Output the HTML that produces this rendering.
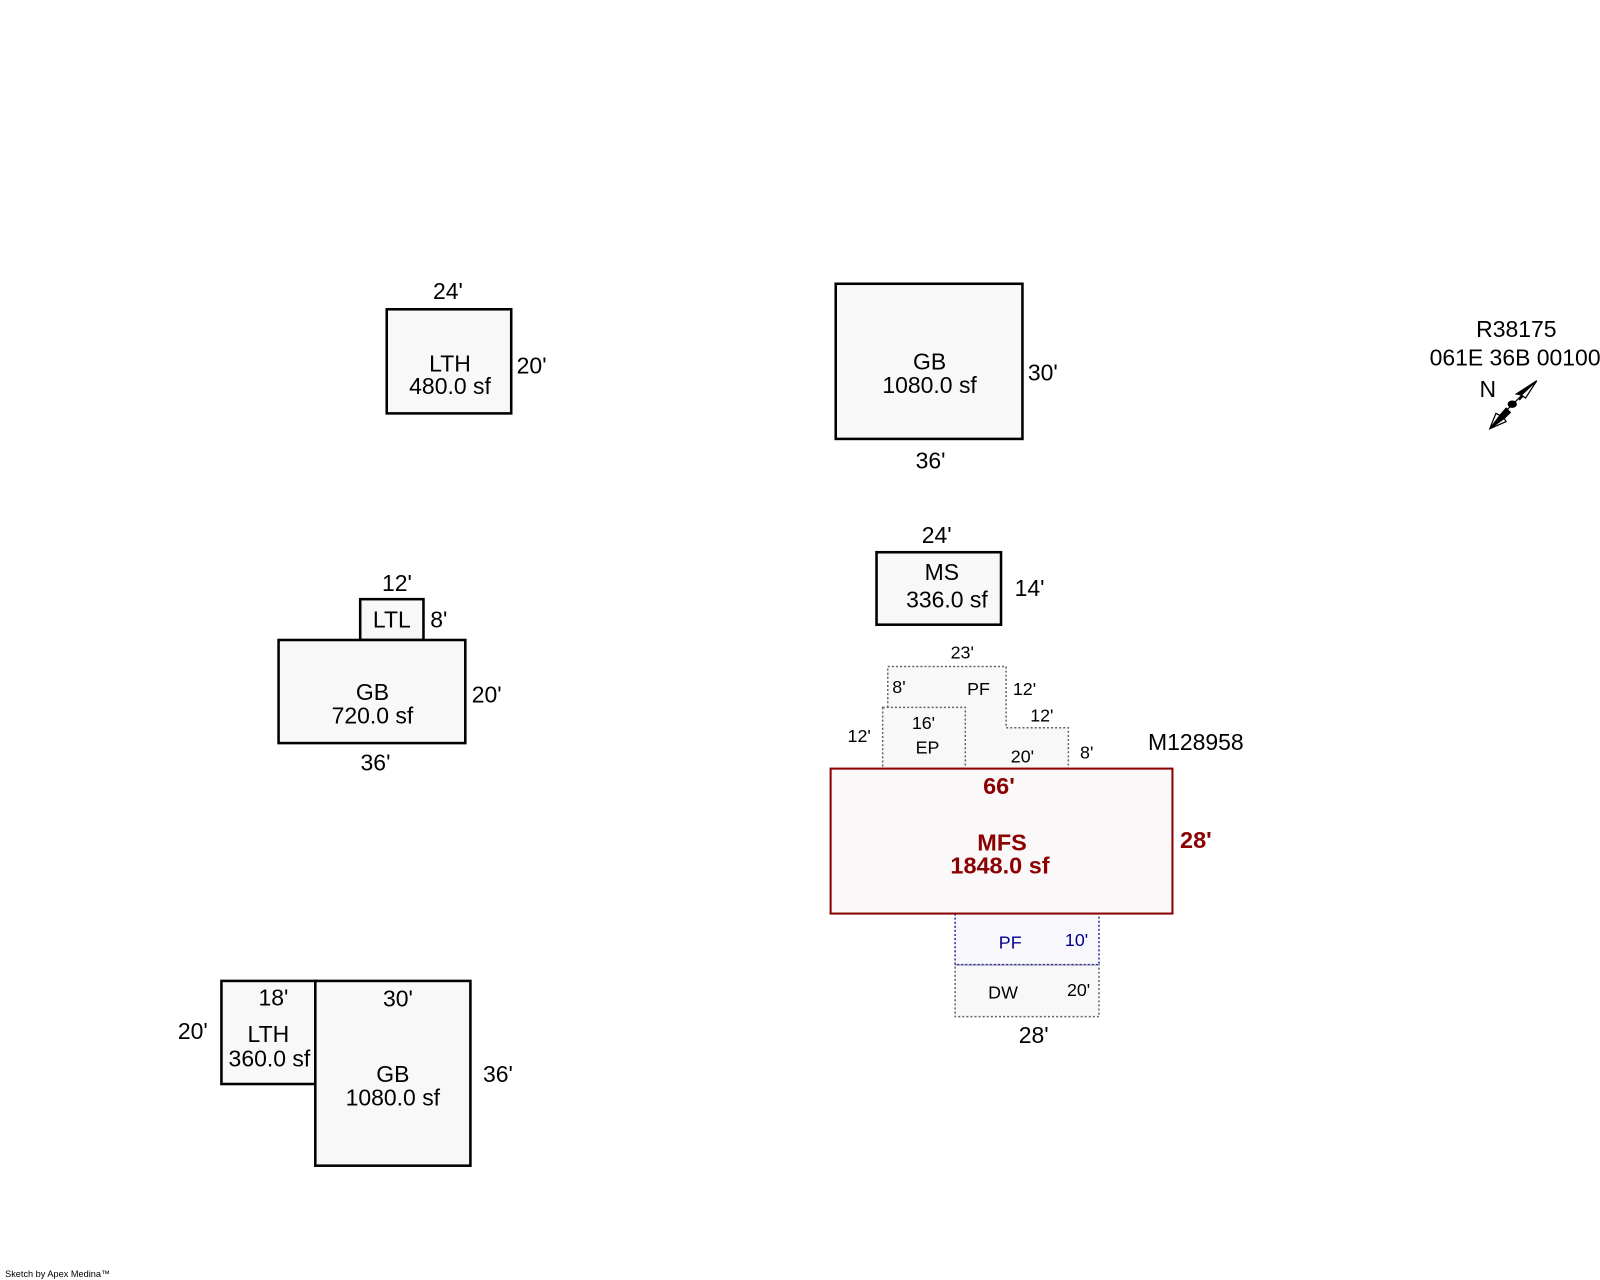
<!DOCTYPE html>
<html><head><meta charset="utf-8"><style>
html,body{margin:0;padding:0;background:#fff;width:1600px;height:1280px;overflow:hidden}
svg{display:block}
text{font-family:"Liberation Sans",Arial,sans-serif;fill:#000}
</style></head><body>
<svg width="1600" height="1280" viewBox="0 0 1568 1254" preserveAspectRatio="none" xmlns="http://www.w3.org/2000/svg">
<g fill="#f8f8f8" stroke="#000" stroke-width="2.5">
<rect x="379" y="303" width="122" height="102"/>
<rect x="819" y="278" width="183" height="152"/>
<rect x="859" y="541" width="122" height="71"/>
<rect x="353" y="587" width="62" height="40"/>
<rect x="273" y="627" width="183" height="101"/>
<rect x="217" y="961" width="92" height="101"/>
<rect x="309" y="961" width="152" height="181"/>
</g>
<path d="M870,693 L870,653 L986,653 L986,713 L1047,713 L1047,753 L946,753 L946,693 Z" fill="#f8f8f8" stroke="none"/>
<g fill="none" stroke="#666" stroke-width="1.5" stroke-dasharray="2,2">
<path d="M870,693 L870,653 L986,653 L986,713 L1047,713 L1047,753"/>
</g>
<g fill="#f8f8f8" stroke="#666" stroke-width="1.5" stroke-dasharray="2,2">
<rect x="865" y="693" width="81" height="60"/>
<rect x="936" y="945" width="141" height="51"/>
</g>
<rect x="936" y="895" width="141" height="50" fill="#f8f8fc" stroke="#2a2aa0" stroke-width="1.5" stroke-dasharray="2,2"/>
<rect x="814" y="753" width="335" height="142" fill="#faf8f8" stroke="#8b0000" stroke-width="2"/>
<g font-size="22.5" text-anchor="middle">
<text x="439" y="293">24'</text>
<text x="521" y="366">20'</text>
<text x="441" y="364">LTH</text>
<text x="441" y="386">480.0 sf</text>
<text x="911" y="362">GB</text>
<text x="911" y="385">1080.0 sf</text>
<text x="1022" y="373">30'</text>
<text x="912" y="459">36'</text>
<text x="918" y="532">24'</text>
<text x="923" y="568">MS</text>
<text x="928" y="595">336.0 sf</text>
<text x="1009" y="584">14'</text>
<text x="389" y="579">12'</text>
<text x="384" y="615">LTL</text>
<text x="430" y="615">8'</text>
<text x="365" y="686">GB</text>
<text x="365" y="709">720.0 sf</text>
<text x="477" y="688">20'</text>
<text x="368" y="755">36'</text>
<text x="268" y="985">18'</text>
<text x="263" y="1021">LTH</text>
<text x="264" y="1045">360.0 sf</text>
<text x="189" y="1018">20'</text>
<text x="390" y="986">30'</text>
<text x="385" y="1060">GB</text>
<text x="385" y="1083">1080.0 sf</text>
<text x="488" y="1060">36'</text>
<text x="1486" y="330">R38175</text>
<text x="1458" y="389">N</text>
<text x="1013" y="1022">28'</text>
</g>
<text x="1401" y="358" font-size="22.5">061E 36B 00100</text>
<text x="1125" y="735" font-size="22.5">M128958</text>
<g font-size="17.5" text-anchor="middle">
<text x="943" y="645">23'</text>
<text x="881" y="679">8'</text>
<text x="959" y="681">PF</text>
<text x="1004" y="681">12'</text>
<text x="1021" y="707">12'</text>
<text x="905" y="714">16'</text>
<text x="909" y="738">EP</text>
<text x="842" y="727">12'</text>
<text x="1002" y="747">20'</text>
<text x="1065" y="743">8'</text>
<text x="983" y="978">DW</text>
<text x="1057" y="976">20'</text>
<text x="990" y="929" style="fill:#00008b">PF</text>
<text x="1055" y="927" style="fill:#00008b">10'</text>
</g>
<g font-size="23" font-weight="bold" text-anchor="middle">
<text x="979" y="778" style="fill:#8b0000">66'</text>
<text x="982" y="833" style="fill:#8b0000">MFS</text>
<text x="980" y="856" style="fill:#8b0000">1848.0 sf</text>
<text x="1172" y="831" style="fill:#8b0000">28'</text>
</g>
<g stroke="#000" stroke-width="1.2">
<line x1="1466" y1="412" x2="1502" y2="377"/>
<path d="M1506,373 L1486,386 L1491,387 L1489,392 Z" fill="#000"/>
<path d="M1506,373 L1491,387 L1495,390 Z" fill="#fff"/>
<path d="M1460,420 L1466,405 L1470,407 L1476,400 L1480,404 L1474,410 L1476,413 Z" fill="#fff"/>
<path d="M1460,420 L1470,407 L1476,400 L1480,404 L1474,410 Z" fill="#000"/>
<ellipse cx="1482" cy="396" rx="4" ry="3" fill="#000"/>
</g>
<text x="5" y="1251" font-size="9">Sketch by Apex Medina™</text>
</svg>
</body></html>
